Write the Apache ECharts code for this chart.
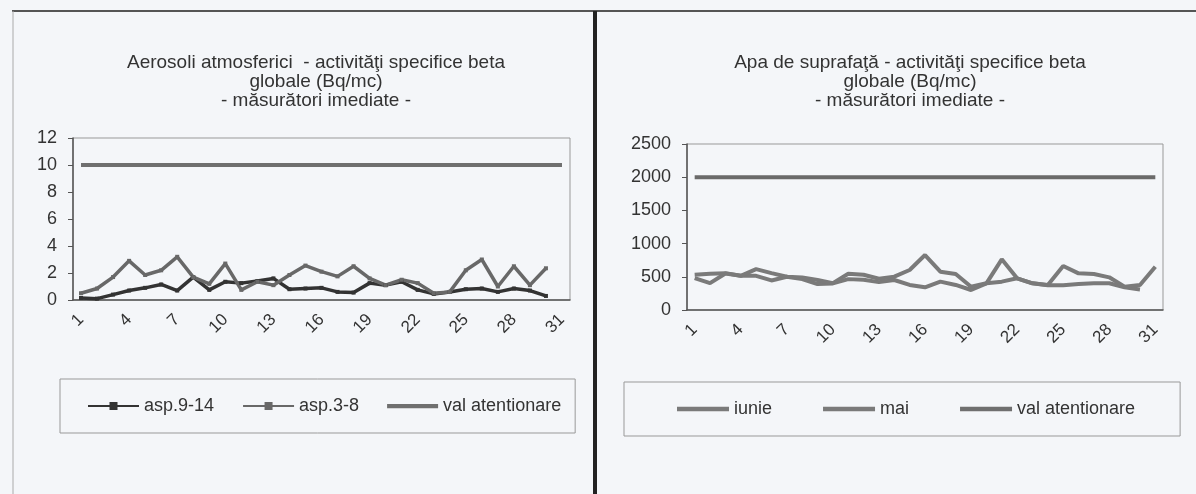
<!DOCTYPE html>
<html>
<head>
<meta charset="utf-8">
<script src="https://cdn.jsdelivr.net/npm/echarts@6/dist/echarts.min.js"></script>
<style>
  html, body { margin: 0; padding: 0; background: #f4f6f9; }
  #chart { width: 1196px; height: 494px; }
</style>
</head>
<body>
<div id="chart"></div>
<script>
// days of the month (category axis)
const days = ['1', '2', '3', '4', '5', '6', '7', '8', '9', '10', '11', '12', '13', '14', '15', '16',
  '17', '18', '19', '20', '21', '22', '23', '24', '25', '26', '27', '28', '29', '30', '31']

// left chart - aerosoli (Bq/mc)
const asp914 = [0.15, 0.1, 0.4, 0.7, 0.9, 1.15, 0.7, 1.7, 0.75, 1.35, 1.25, 1.4, 1.6, 0.8, 0.85,
  0.9, 0.6, 0.55, 1.25, 1.1, 1.35, 0.75, 0.45, 0.6, 0.8, 0.85, 0.6, 0.85, 0.7, 0.3]
const asp38 = [0.5, 0.85, 1.7, 2.9, 1.85, 2.2, 3.2, 1.7, 1.2, 2.7, 0.75, 1.35, 1.1, 1.85, 2.55,
  2.1, 1.75, 2.5, 1.6, 1.1, 1.5, 1.25, 0.5, 0.6, 2.2, 3.0, 1.0, 2.5, 1.1, 2.35]
const valAerosoli = [10, 10, 10, 10, 10, 10, 10, 10, 10, 10, 10, 10, 10, 10, 10, 10,
  10, 10, 10, 10, 10, 10, 10, 10, 10, 10, 10, 10, 10, 10, 10]

// right chart - apa de suprafata
const iunie = [480, 405, 550, 515, 515, 445, 500, 465, 390, 400, 465, 455, 420, 452, 377,
  342, 427, 377, 301, 402, 427, 477, 402, 372, 372, 392, 402, 402, 342, 310]
const mai = [530, 545, 555, 515, 615, 555, 500, 490, 452, 405, 545, 530, 470, 502, 602,
  828, 577, 542, 351, 402, 763, 477, 402, 377, 663, 552, 542, 492, 351, 377, 652]
const valApa = [2000, 2000, 2000, 2000, 2000, 2000, 2000, 2000, 2000, 2000, 2000, 2000, 2000, 2000, 2000, 2000,
  2000, 2000, 2000, 2000, 2000, 2000, 2000, 2000, 2000, 2000, 2000, 2000, 2000, 2000, 2000]

const font = 'Liberation Sans, Arial, sans-serif'
const textColor = '#333'
const barIcon = 'path://M0,0H60V5H0Z' // plain thick line for legend entries without markers

const xAxisFor = (gridIndex) => ({
  type: 'category',
  gridIndex: gridIndex,
  data: days,
  boundaryGap: true,
  axisLine: { lineStyle: { color: '#555', width: 1.5 } },
  axisTick: { interval: 0, length: 5, lineStyle: { color: '#555' } },
  axisLabel: { interval: 2, rotate: 45, fontSize: 17, color: textColor, fontFamily: font, margin: 17 }
})

const yAxisFor = (gridIndex, max, step) => ({
  type: 'value',
  gridIndex: gridIndex,
  min: 0,
  max: max,
  interval: step,
  axisLine: { show: true, lineStyle: { color: '#555', width: 1.5 } },
  axisTick: { show: true, length: 5, lineStyle: { color: '#555' } },
  splitLine: { show: false },
  axisLabel: { fontSize: 18, color: textColor, fontFamily: font, margin: 16, formatter: (v) => String(v) }
})

const lineSeries = (name, data, axis, color, width, marker) => ({
  name: name,
  type: 'line',
  xAxisIndex: axis,
  yAxisIndex: axis,
  data: data,
  symbol: marker ? 'rect' : 'none',
  symbolSize: 4,
  showSymbol: !!marker,
  itemStyle: { color: color },
  lineStyle: { color: color, width: width }
})

const legendFor = (names, left, top, gap, itemWidth, padding) => ({
  data: names,
  left: left,
  top: top,
  itemGap: gap,
  itemWidth: itemWidth,
  itemHeight: 10,
  padding: padding,
  borderColor: '#999',
  borderWidth: 1,
  borderRadius: 0,
  textStyle: { fontSize: 18, color: textColor, fontFamily: font }
})

const myChart = echarts.init(document.getElementById('chart'))

const option = {
  backgroundColor: '#f4f6f9',
  animation: false,
  title: [
    {
      text: 'Aerosoli atmosferici  - activităţi specifice beta\nglobale (Bq/mc)\n- măsurători imediate -',
      left: 316,
      top: 53,
      padding: 0,
      textAlign: 'center',
      textStyle: { fontSize: 19, fontWeight: 'normal', color: textColor, fontFamily: font, lineHeight: 19 }
    },
    {
      text: 'Apa de suprafaţă - activităţi specifice beta\nglobale (Bq/mc)\n- măsurători imediate -',
      left: 910,
      top: 53,
      padding: 0,
      textAlign: 'center',
      textStyle: { fontSize: 19, fontWeight: 'normal', color: textColor, fontFamily: font, lineHeight: 19 }
    }
  ],
  grid: [
    { left: 73, top: 138, width: 497, height: 162, show: true, borderColor: '#999', borderWidth: 1, backgroundColor: 'transparent' },
    { left: 687, top: 144, width: 476, height: 166, show: true, borderColor: '#999', borderWidth: 1, backgroundColor: 'transparent' }
  ],
  xAxis: [xAxisFor(0), xAxisFor(1)],
  yAxis: [yAxisFor(0, 12, 2), yAxisFor(1, 2500, 500)],
  legend: [
    legendFor(['asp.9-14', 'asp.3-8', { name: 'val atentionare', icon: barIcon }], 60, 379, 28, 51, [18, 14, 18, 27]),
    legendFor([{ name: 'iunie', icon: barIcon }, { name: 'mai', icon: barIcon }, { name: 'val atentionare', icon: barIcon }],
      624, 382, 51, 52, [18, 45, 18, 53])
  ],
  series: [
    lineSeries('val atentionare', valAerosoli, 0, '#6f6f6f', 4, false),
    lineSeries('asp.9-14', asp914, 0, '#333333', 3.5, true),
    lineSeries('asp.3-8', asp38, 0, '#686868', 3.5, true),
    lineSeries('iunie', iunie, 1, '#7a7a7a', 4, false),
    lineSeries('mai', mai, 1, '#7a7a7a', 4, false),
    lineSeries('val atentionare', valApa, 1, '#6a6a6a', 4, false)
  ],
  graphic: [
    { type: 'line', shape: { x1: 12, y1: 11, x2: 1196, y2: 11 }, style: { stroke: '#555', lineWidth: 2 } },
    { type: 'line', shape: { x1: 13, y1: 11, x2: 13, y2: 494 }, style: { stroke: '#aaa', lineWidth: 1 } },
    { type: 'rect', shape: { x: 593, y: 11, width: 4, height: 483 }, style: { fill: '#222' } }
  ]
}

myChart.setOption(option)
</script>
</body>
</html>
